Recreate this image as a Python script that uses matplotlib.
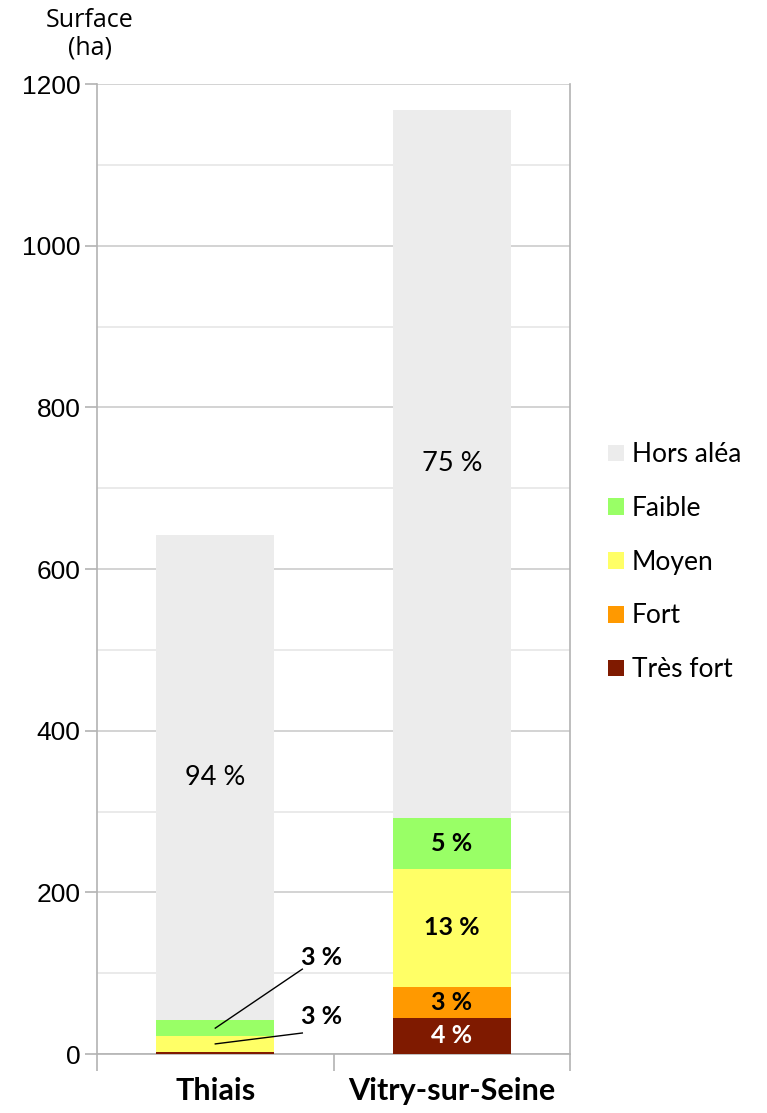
import matplotlib.pyplot as plt
import numpy as np

# data (surface in ha)
communes = ["Thiais", "Vitry-sur-Seine"]
niveaux = ["Très fort", "Fort", "Moyen", "Faible", "Hors aléa"]
tres_fort = [2, 45]
fort = [1, 38]
moyen = [19, 146]
faible = [20, 63]
hors_alea = [600, 876]
couleurs = ["#7f1a00", "#ff9900", "#ffff66", "#99ff66", "#ececec"]

# percentages shown on the bars
pct_thiais = {"Moyen": "3 %", "Faible": "3 %", "Hors aléa": "94 %"}
pct_vitry = {"Très fort": "4 %", "Fort": "3 %", "Moyen": "13 %",
             "Faible": "5 %", "Hors aléa": "75 %"}

LABEL_FONT = ["Lato", "DejaVu Sans"]
TICK_FONT = ["Liberation Sans", "DejaVu Sans"]

fig = plt.figure(figsize=(7.67, 11.13), dpi=100)
ax = fig.add_axes([0.1265, 0.053, 0.6167, 0.8715])

series = [tres_fort, fort, moyen, faible, hors_alea]
x = np.arange(len(communes))
bottom = np.zeros(len(communes))
bars = []
for vals, col, name in zip(series, couleurs, niveaux):
    ax.bar(x, vals, width=0.5, bottom=bottom, color=col, label=name, zorder=3)
    bars.append((name, vals, bottom.copy()))
    bottom += np.array(vals)

ax.set_xlim(-0.5, 1.5)
ax.set_ylim(0, 1200)

# grid
ax.set_yticks(np.arange(0, 1201, 200))
ax.set_yticks(np.arange(100, 1200, 200), minor=True)
ax.grid(axis="y", which="major", color="#cccccc", lw=1.2, zorder=0)
ax.grid(axis="y", which="minor", color="#e6e6e6", lw=1.2, zorder=0)
ax.tick_params(axis="y", which="major", length=9, color="#b3b3b3", width=1.2,
               pad=3, labelsize=19)
ax.tick_params(axis="y", which="minor", length=0)
for lab in ax.get_yticklabels():
    lab.set_family(TICK_FONT)

# category separators under the axis
ax.set_xticks([-0.5, 0.5, 1.5])
ax.set_xticklabels([])
ax.tick_params(axis="x", length=12, color="#b3b3b3", width=1.2, direction="out")
for i, c in enumerate(communes):
    ax.text(i, -46, c, ha="center", va="center", fontsize=22, fontweight="bold",
            family=LABEL_FONT)

for s in ["left", "right", "bottom"]:
    ax.spines[s].set_color("#b3b3b3")
    ax.spines[s].set_linewidth(1.2)
ax.spines["top"].set_visible(False)

# labels on bars
for name, vals, bot in bars:
    for i, lab in enumerate([pct_thiais.get(name), pct_vitry.get(name)]):
        if lab is None:
            continue
        mid = bot[i] + vals[i] / 2
        if i == 0 and name != "Hors aléa":
            # leader lines for the thin Thiais segments
            ty, ey = {"Faible": (120, 105), "Moyen": (46, 26)}[name]
            ax.plot([0, 0.368], [mid, ey], color="black", lw=1, zorder=4)
            ax.text(0.45, ty, lab, ha="center", va="center", fontsize=18,
                    fontweight="bold", family=LABEL_FONT, zorder=4)
            continue
        bold = name != "Hors aléa"
        ax.text(i, mid, lab, ha="center", va="center",
                fontsize=18 if bold else 19.5,
                fontweight="bold" if bold else "normal",
                color="white" if name == "Très fort" else "black",
                family=LABEL_FONT, zorder=4)

fig.text(0.117, 0.982, "Surface", ha="center", va="center", fontsize=18,
         family=["Open Sans", "DejaVu Sans"])
fig.text(0.117, 0.957, "(ha)", ha="center", va="center", fontsize=18,
         family=["Open Sans", "DejaVu Sans"])

handles, labels = ax.get_legend_handles_labels()
leg = ax.legend(handles[::-1], labels[::-1], loc="center left",
                bbox_to_anchor=(1.03, 0.507), frameon=False,
                prop={"family": LABEL_FONT, "size": 19},
                handlelength=0.6, handleheight=0.6, handletextpad=0.3,
                labelspacing=1.09)

fig.savefig("out.png", dpi=100)
